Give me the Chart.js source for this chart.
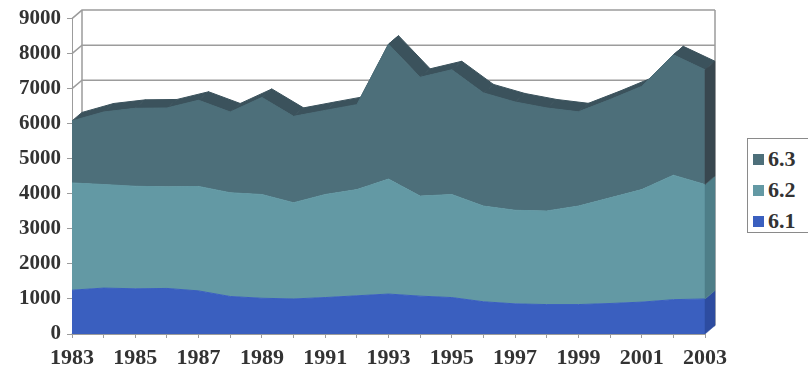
<!DOCTYPE html>
<html>
<head>
<meta charset="utf-8">
<script src="https://cdn.jsdelivr.net/npm/chart.js@4/dist/chart.umd.min.js"></script>
<style>
  html, body { margin: 0; padding: 0; background: #fff; }
  #wrap { position: relative; width: 808px; height: 374px; overflow: hidden; }
  #legend {
    position: absolute; left: 747px; top: 138px; width: 70px; height: 95px;
    border: 1px solid #8a8a8a; box-sizing: border-box; background: #fff;
    font: bold 22px "Liberation Serif", serif; color: #333;
  }
  #legend .item { position: absolute; left: 5px; height: 24px; line-height: 24px; display: flex; align-items: center; }
  #legend .sw { width: 11px; height: 11px; margin-right: 4px; }
</style>
</head>
<body>
<div id="wrap">
  <canvas id="c" width="808" height="374"></canvas>
  <div id="legend"></div>
</div>
<script>
// Years on the category axis
const years = ['1983','1984','1985','1986','1987','1988','1989','1990','1991','1992','1993',
               '1994','1995','1996','1997','1998','1999','2000','2001','2002','2003'];

// Stacked series, bottom to top
const series61 = [1250,1310,1290,1300,1230,1070,1020,1000,1040,1090,1140,1080,1040,920,860,840,840,870,910,980,1000];
const series62 = [3060,2955,2925,2900,2980,2960,2960,2745,2940,3030,3280,2855,2940,2730,2670,2670,2810,3015,3210,3550,3265];
const series63 = [1770,2070,2225,2250,2460,2305,2770,2465,2400,2425,3850,3390,3560,3230,3090,2940,2690,2805,2945,3435,3275];

const seriesNames = ['6.1', '6.2', '6.3'];
const yTicks = [0,1000,2000,3000,4000,5000,6000,7000,8000,9000];

// Face colours: front, top ribbon, right-hand side
const frontColors = ['#3a5fbf', '#6399a4', '#4d6f7a'];
const sideColors  = ['#2d4ca0', '#4e7e88', '#38474f'];
const topColor = '#3b525c';
const gridColor = '#9c9c9c';

// Perspective offset of the back wall
const DX = 10, DY = 8.5;

const depthPlugin = {
  id: 'depth',
  beforeDatasetsDraw(chart) {
    const { ctx, chartArea: a, scales: { y } } = chart;
    ctx.save();
    ctx.strokeStyle = gridColor;
    ctx.lineWidth = 1.5;
    // back wall grid lines and their links to the front axis
    y.ticks.forEach(t => {
      const py = y.getPixelForValue(t.value);
      ctx.beginPath();
      ctx.moveTo(a.left, py);
      ctx.lineTo(a.left + DX, py - DY);
      ctx.lineTo(a.right + DX, py - DY);
      ctx.stroke();
    });
    ctx.beginPath();
    ctx.moveTo(a.left + DX, a.top - DY);
    ctx.lineTo(a.left + DX, a.bottom - DY);
    ctx.moveTo(a.right + DX, a.top - DY);
    ctx.lineTo(a.right + DX, a.bottom - DY);
    ctx.stroke();

    // top surface of the stack
    const pts = chart.getDatasetMeta(2).data;
    ctx.fillStyle = topColor;
    ctx.strokeStyle = topColor;
    ctx.lineWidth = 1;
    for (let i = 0; i < pts.length - 1; i++) {
      const p = pts[i], q = pts[i + 1];
      ctx.beginPath();
      ctx.moveTo(p.x, p.y);
      ctx.lineTo(q.x, q.y);
      ctx.lineTo(q.x + DX, q.y - DY);
      ctx.lineTo(p.x + DX, p.y - DY);
      ctx.closePath();
      ctx.fill();
      ctx.stroke();
    }
    ctx.restore();
  },
  afterDatasetsDraw(chart) {
    const { ctx, scales: { y } } = chart;
    ctx.save();
    for (let k = 0; k < 3; k++) {
      const meta = chart.getDatasetMeta(k);
      const last = meta.data[meta.data.length - 1];
      const x = last.x;
      const yTop = last.y;
      const yBot = k === 0 ? y.getPixelForValue(0)
                           : chart.getDatasetMeta(k - 1).data[meta.data.length - 1].y;
      ctx.fillStyle = sideColors[k];
      ctx.strokeStyle = sideColors[k];
      ctx.lineWidth = 0.5;
      ctx.beginPath();
      ctx.moveTo(x, yBot);
      ctx.lineTo(x, yTop);
      ctx.lineTo(x + DX, yTop - DY);
      ctx.lineTo(x + DX, yBot - DY);
      ctx.closePath();
      ctx.fill();
      ctx.stroke();
    }
    ctx.restore();
  }
};

const seriesData = [series61, series62, series63];
const datasets = seriesData.map((d, k) => ({
  label: seriesNames[k],
  data: d,
  fill: k === 0 ? 'origin' : '-1',
  backgroundColor: frontColors[k],
  borderColor: frontColors[k],
  borderWidth: 1,
  pointRadius: 0,
  tension: 0
}));

const labelFont = { family: '"Liberation Serif", serif', weight: 'bold' };

new Chart(document.getElementById('c'), {
  type: 'line',
  data: { labels: years, datasets },
  options: {
    responsive: false,
    animation: false,
    devicePixelRatio: 1,
    layout: { padding: { top: 16, right: 103, bottom: 0, left: 0 } },
    plugins: { legend: { display: false }, tooltip: { enabled: false } },
    scales: {
      x: {
        offset: false,
        grid: { drawOnChartArea: false, drawTicks: true, tickLength: 4, color: gridColor },
        border: { display: true, color: gridColor },
        ticks: {
          autoSkip: false, maxRotation: 0, padding: 7, color: '#333',
          font: { ...labelFont, size: 22 },
          callback: (v, i) => (i % 2 === 0 ? years[i] : '')
        },
        afterFit: s => { s.height = 40; }
      },
      y: {
        stacked: true,
        min: 0, max: 9000,
        afterBuildTicks: s => { s.ticks = yTicks.map(v => ({ value: v })); },
        grid: { drawOnChartArea: false, drawTicks: true, tickLength: 5, color: gridColor },
        border: { display: true, color: gridColor },
        ticks: {
          padding: 6, color: '#333', font: { ...labelFont, size: 21 },
          callback: v => String(v)
        },
        afterFit: s => { s.width = 72; }
      }
    }
  },
  plugins: [depthPlugin]
});

// Legend, top series first
const legend = document.getElementById('legend');
[2, 1, 0].forEach((k, row) => {
  const item = document.createElement('div');
  item.className = 'item';
  item.style.top = (8 + row * 31) + 'px';
  const sw = document.createElement('span');
  sw.className = 'sw';
  sw.style.background = frontColors[k];
  const tx = document.createElement('span');
  tx.textContent = seriesNames[k];
  item.appendChild(sw);
  item.appendChild(tx);
  legend.appendChild(item);
});
</script>
</body>
</html>
